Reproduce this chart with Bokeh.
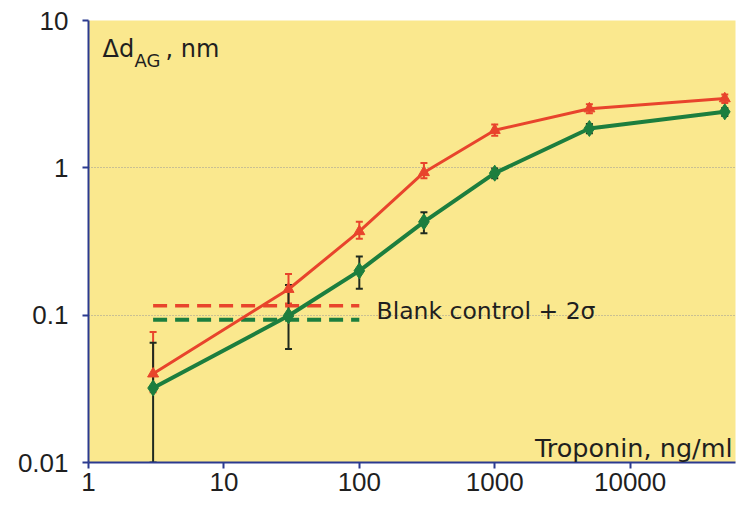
from bokeh.plotting import figure
from bokeh.models import ColumnDataSource, Whisker, TeeHead, FixedTicker, Label, Range1d
from bokeh.embed import file_html
from bokeh.resources import INLINE

# Data
conc = [3, 30, 100, 300, 1000, 5000, 50000]
red_y = [0.040, 0.15, 0.37, 0.93, 1.80, 2.52, 2.95]
red_lo = [0.030, 0.12, 0.33, 0.85, 1.65, 2.35, 2.75]
red_hi = [0.077, 0.19, 0.43, 1.08, 1.97, 2.70, 3.15]
green_y = [0.032, 0.099, 0.20, 0.43, 0.92, 1.85, 2.40]
green_lo = [0.010, 0.059, 0.151, 0.36, 0.85, 1.72, 2.25]
green_hi = [0.065, 0.160, 0.25, 0.50, 0.99, 1.98, 2.55]
blank_x = [3, 100]
blank_red = 0.116
blank_green = 0.093
x_ticks = [1, 10, 100, 1000, 10000]
y_ticks = [0.01, 0.1, 1, 10]

RED = "#E8442C"
GREEN = "#1C7E3E"
AXIS = "#2B3A8F"
BG = "#FAE88E"
TXT = "#1f1f1f"

p = figure(width=743, height=502, x_axis_type="log", y_axis_type="log",
           x_range=Range1d(1, 60000), y_range=Range1d(0.01, 10),
           output_backend="svg", toolbar_location=None,
           min_border_left=88, min_border_right=8, min_border_top=20, min_border_bottom=40)
p.background_fill_color = BG
p.border_fill_color = "white"
p.outline_line_color = None

p.xgrid.grid_line_color = None
p.ygrid.grid_line_color = "#999999"
p.ygrid.grid_line_dash = "1 2"
p.ygrid.grid_line_width = 1

for ax in (p.xaxis, p.yaxis):
    ax.axis_line_color = AXIS
    ax.axis_line_width = 2
    ax.major_tick_line_color = AXIS
    ax.major_tick_line_width = 2
    ax.major_tick_out = 6
    ax.major_tick_in = 0
    ax.minor_tick_line_color = None
    ax.major_label_text_font = "Liberation Sans"
    ax.major_label_text_font_size = "26px"
    ax.major_label_text_color = TXT

p.xaxis.ticker = FixedTicker(ticks=x_ticks)
p.yaxis.ticker = FixedTicker(ticks=y_ticks)
p.xaxis.major_label_overrides = {t: str(t) for t in x_ticks}
p.yaxis.major_label_overrides = {0.01: "0.01", 0.1: "0.1", 1: "1", 10: "10"}
p.xaxis.major_label_standoff = 4
p.yaxis.major_label_standoff = 14

# blank control lines
p.line(blank_x, [blank_red, blank_red], line_color=RED, line_width=3.5, line_dash="14 8")
p.line(blank_x, [blank_green, blank_green], line_color=GREEN, line_width=4, line_dash="14 8")

# error bars
gsrc = ColumnDataSource(dict(x=conc, y=green_y, lo=green_lo, hi=green_hi))
rsrc = ColumnDataSource(dict(x=conc, y=red_y, lo=red_lo, hi=red_hi))
p.add_layout(Whisker(source=rsrc, base="x", upper="hi", lower="lo", line_color=RED, line_width=2,
                     upper_head=TeeHead(size=7, line_color=RED, line_width=2),
                     lower_head=TeeHead(size=7, line_color=RED, line_width=2)))
p.add_layout(Whisker(source=gsrc, base="x", upper="hi", lower="lo", line_color="#1f2a1f", line_width=2,
                     upper_head=TeeHead(size=7, line_color="#1f2a1f", line_width=2),
                     lower_head=TeeHead(size=7, line_color="#1f2a1f", line_width=2)))

p.line("x", "y", source=rsrc, line_color=RED, line_width=3)
p.scatter("x", "y", source=rsrc, marker="triangle", size=11, fill_color=RED, line_color=RED)
p.line("x", "y", source=gsrc, line_color=GREEN, line_width=4)
p.scatter("x", "y", source=gsrc, marker="diamond", size=16, fill_color=GREEN, line_color=GREEN)

FONT = "DejaVu Sans"
p.add_layout(Label(x=1.27, y=6.36, text="Δd", text_font=FONT, text_font_size="24px",
                   text_color=TXT, text_baseline="alphabetic"))
p.add_layout(Label(x=2.19, y=5.35, text="AG", text_font=FONT, text_font_size="18px",
                   text_color=TXT, text_baseline="alphabetic"))
p.add_layout(Label(x=3.70, y=6.36, text=", nm", text_font=FONT, text_font_size="24px",
                   text_color=TXT, text_baseline="alphabetic"))
p.add_layout(Label(x=57100, y=0.01264, text="Troponin, ng/ml", text_font=FONT, text_font_size="25.5px",
                   text_color=TXT, text_align="right", text_baseline="alphabetic"))
p.add_layout(Label(x=134, y=0.1075, text="Blank control + 2σ", text_font=FONT, text_font_size="23.5px",
                   text_color=TXT, text_baseline="alphabetic"))

open("out.html", "w").write(file_html(p, INLINE))
